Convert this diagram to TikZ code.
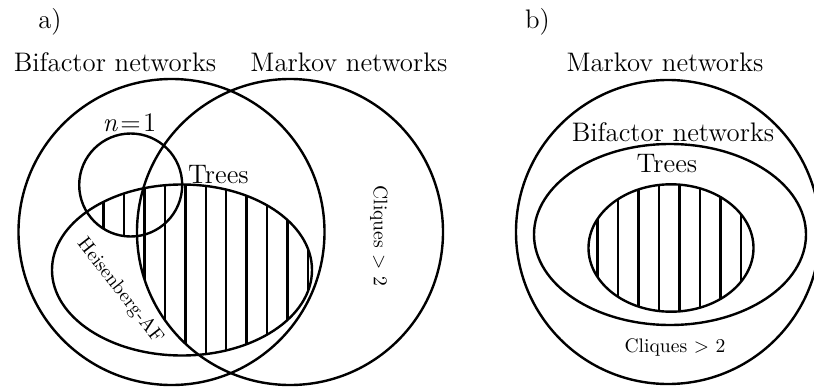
\documentclass[tikz,border=0pt]{standalone}
\usepackage{fontspec}
\usepackage{tikz}
\usetikzlibrary{positioning}

\begin{document}
\begin{tikzpicture}[x=0.5pt,y=0.5pt,line width=1.2pt,
                    big/.style={font=\fontsize{13.4}{16}\selectfont},
                    small/.style={font=\fontsize{9.8}{12}\selectfont}]

  \useasboundingbox (0,0) rectangle (814,387);
  \clip (0,0) rectangle (814,387);

  % a) hatching: trees inside Markov networks or n=1
  \begin{scope}
    \clip (182,117) ellipse [x radius=130, y radius=85.5];
    \clip (290,155) circle (153);
    \foreach \x in {103.5,123.95,...,310} \draw (\x,0) -- (\x,387);
  \end{scope}
  \begin{scope}
    \clip (182,117) ellipse [x radius=130, y radius=85.5];
    \clip (130.7,202) circle (51.5);
    \foreach \x in {103.5,123.95,...,310} \draw (\x,0) -- (\x,387);
  \end{scope}

  % a) sets
  \draw (171.5,155) circle (153);
  \draw (290,155) circle (153);
  \draw (130.7,202) circle (51.5);
  \draw (182,117) ellipse [x radius=130, y radius=85.5];

  \node[big] (la)   at (50,365)    {a)};
  \node[big] (bifa) at (115,325)   {Bifactor networks};
  \node[big] (mara) at (349,325)   {Markov networks};
  \node[big] (none) at (129.5,264) {\textit{n}\kern1.2pt=\kern1.2pt1};
  \node[big] (trea) at (218.5,212) {Trees};
  \node[small,rotate=-90] (clqa) at (379,151) {Cliques > 2};
  \node[small,rotate=-52] (heis) at (120,96)  {Heisenberg-AF};

  % b) hatching
  \begin{scope}
    \clip (671,139) ellipse [x radius=82.5, y radius=63.7];
    \foreach \x in {597.5,618,...,750} \draw (\x,0) -- (\x,387);
  \end{scope}

  % b) sets
  \draw (668,155) circle (152);
  \draw (670,152.5) ellipse [x radius=136, y radius=90.5];
  \draw (671,139) ellipse [x radius=82.5, y radius=63.7];

  \node[big] (lb)   at (537.5,365) {b)};
  \node[big] (marb) at (665,325)   {Markov networks};
  \node[big] (bifb) at (673,255)   {Bifactor networks};
  \node[big] (treb) at (667,223)   {Trees};
  \node[small] (clqb) at (675,40)  {Cliques > 2};
\end{tikzpicture}
\end{document}
